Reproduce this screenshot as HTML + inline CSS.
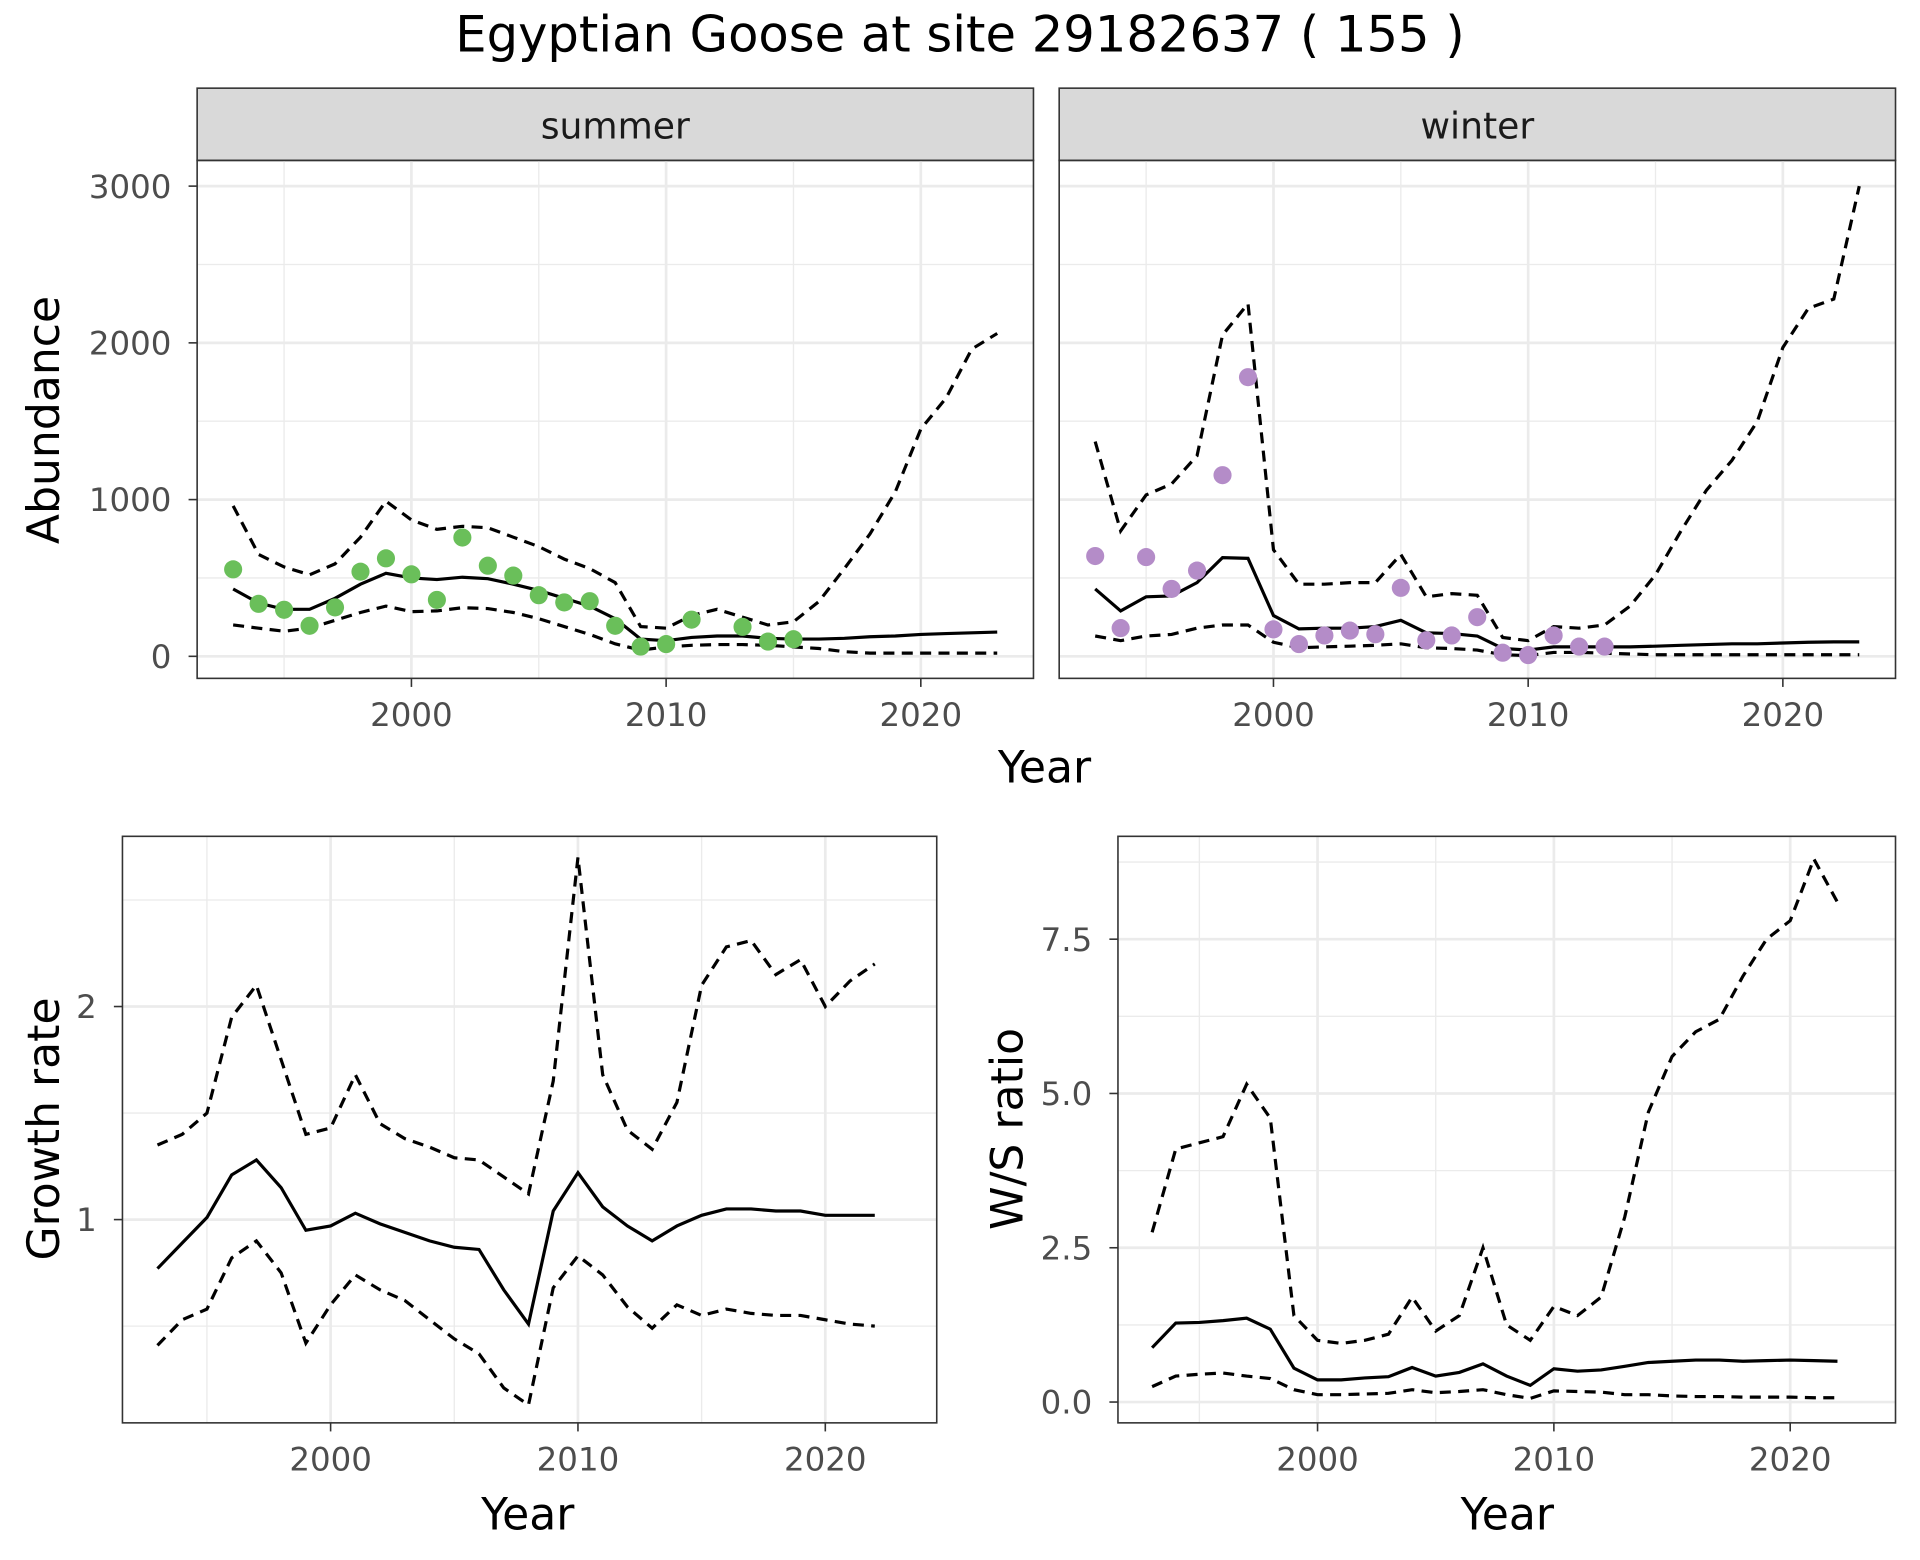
<!DOCTYPE html>
<html><head><meta charset="utf-8"><style>
html,body{margin:0;padding:0;background:#fff}
svg{display:block;font-family:"DejaVu Sans","Liberation Sans",sans-serif}
</style></head><body>
<svg id="chart" width="1920" height="1560" viewBox="0 0 1568 1274" xmlns="http://www.w3.org/2000/svg">
<rect width="1568" height="1274" fill="#fff"/>
<text x="784" y="42" font-size="40.5" text-anchor="middle" fill="#000">Egyptian Goose at site 29182637 ( 155 )</text>
<text transform="translate(48,343) rotate(-90)" font-size="36" text-anchor="middle" fill="#000">Abundance</text>
<text x="853" y="639" font-size="36" text-anchor="middle" fill="#000">Year</text>
<text transform="translate(48,922) rotate(-90)" font-size="36" text-anchor="middle" fill="#000">Growth rate</text>
<text x="431" y="1249" font-size="36" text-anchor="middle" fill="#000">Year</text>
<text transform="translate(835,922) rotate(-90)" font-size="36" text-anchor="middle" fill="#000">W/S ratio</text>
<text x="1231" y="1249" font-size="36" text-anchor="middle" fill="#000">Year</text>
<g id="g"></g>
</svg>
<script>
const years = [];for(let y=1993;y<=2023;y++)years.push(y);
const sumMean=[430,340,300,300,370,460,530,500,490,505,495,460,420,370,320,240,110,100,120,130,130,115,110,110,115,125,130,140,145,150,155];
const sumUpper=[960,650,570,520,590,760,990,870,810,830,820,760,700,620,560,470,190,180,260,300,250,200,220,350,560,780,1050,1450,1650,1960,2060];
const sumLower=[200,180,160,180,230,280,320,285,290,310,305,280,240,190,140,80,40,60,70,75,75,70,60,50,30,20,20,20,20,20,20];
const sumPtYears=[1993,1994,1995,1996,1997,1998,1999,2000,2001,2002,2003,2004,2005,2006,2007,2008,2009,2010,2011,2013,2014,2015];
const sumPts=[555,335,297,195,312,540,625,523,360,758,578,515,390,344,352,195,62,78,234,188,94,109];
const winMean=[430,290,380,385,470,630,625,260,175,180,180,190,230,150,145,130,50,40,60,60,60,60,65,70,75,80,80,85,90,92,92];
const winUpper=[1370,800,1030,1100,1280,2050,2250,680,460,460,470,470,650,380,400,390,120,100,190,180,200,320,520,800,1060,1250,1500,1970,2220,2280,3000];
const winLower=[130,100,130,140,180,200,200,90,55,60,65,70,80,55,50,40,10,5,25,25,20,15,10,10,10,10,10,10,10,10,10];
const winPtYears=[1993,1994,1995,1996,1997,1998,1999,2000,2001,2002,2003,2004,2005,2006,2007,2008,2009,2010,2011,2012,2013];
const winPts=[640,180,633,430,547,1156,1781,172,78,133,164,141,437,102,133,250,23,8,133,62,62];
const gYears=[];for(let y=1993;y<=2022;y++)gYears.push(y);
const grMean=[0.77,0.89,1.01,1.21,1.28,1.15,0.95,0.97,1.03,0.98,0.94,0.90,0.87,0.86,0.67,0.51,1.04,1.22,1.06,0.97,0.90,0.97,1.02,1.05,1.05,1.04,1.04,1.02,1.02,1.02];
const grUpper=[1.35,1.40,1.50,1.95,2.10,1.75,1.40,1.43,1.68,1.45,1.38,1.34,1.29,1.28,1.20,1.12,1.65,2.70,1.68,1.42,1.33,1.55,2.10,2.28,2.31,2.15,2.22,2.00,2.12,2.20];
const grLower=[0.41,0.53,0.58,0.82,0.90,0.75,0.42,0.60,0.74,0.67,0.62,0.53,0.44,0.37,0.21,0.13,0.68,0.83,0.74,0.59,0.49,0.60,0.55,0.58,0.56,0.55,0.55,0.53,0.51,0.50];
const wsMean=[0.88,1.28,1.29,1.32,1.36,1.18,0.55,0.36,0.36,0.39,0.41,0.56,0.42,0.48,0.62,0.42,0.27,0.54,0.50,0.52,0.58,0.64,0.66,0.68,0.68,0.66,0.67,0.68,0.67,0.66];
const wsUpper=[2.75,4.10,4.20,4.30,5.15,4.60,1.40,1.00,0.95,1.00,1.10,1.70,1.15,1.40,2.50,1.25,1.00,1.55,1.40,1.70,3.00,4.70,5.60,6.00,6.20,6.90,7.50,7.80,8.80,8.10];
const wsLower=[0.25,0.42,0.45,0.47,0.42,0.38,0.20,0.12,0.12,0.13,0.14,0.20,0.15,0.17,0.20,0.12,0.06,0.18,0.17,0.16,0.12,0.12,0.10,0.09,0.09,0.08,0.08,0.08,0.07,0.07];
const abTicks=[0,1000,2000,3000];
const abLabels=["0","1000","2000","3000"];
const yearTicks=[2000,2010,2020];
const grTicks=[1,2];
const grLabels=["1","2"];
const wsTicks=[0,2.5,5,7.5];
const wsLabels=["0.0","2.5","5.0","7.5"];

const NS="http://www.w3.org/2000/svg";
const G=document.getElementById('g');
function el(tag,attrs,parent,txt){const e=document.createElementNS(NS,tag);for(const k in attrs)e.setAttribute(k,attrs[k]);if(txt!==undefined)e.textContent=txt;(parent||G).appendChild(e);return e;}

function panel(o){
  const g=el('g',{});
  
  
  const X=v=>o.x0+(v-2000)*o.xsc, Y=v=>o.y0-(v-o.yr0)*o.ysc;
  o.yMinor.forEach(v=>{const y=Y(v);if(y>o.top&&y<o.bot){const l=el('line',{x1:o.left,x2:o.right,y1:y,y2:y,stroke:'#ebebeb','stroke-width':1.1},g);}});
  [1995,2005,2015].forEach(v=>{const l=el('line',{x1:X(v),x2:X(v),y1:o.top,y2:o.bot,stroke:'#ebebeb','stroke-width':1.1},g);});
  o.yTicks.forEach(v=>{const l=el('line',{x1:o.left,x2:o.right,y1:Y(v),y2:Y(v),stroke:'#ebebeb','stroke-width':2.2},g);});
  yearTicks.forEach(v=>{const l=el('line',{x1:X(v),x2:X(v),y1:o.top,y2:o.bot,stroke:'#ebebeb','stroke-width':2.2},g);});
  const path=(ys,dash,name)=>{const d=o.xv.map((x,i)=>(i?'L':'M')+X(x).toFixed(1)+','+Y(ys[i]).toFixed(1)).join('');const p=el('path',{d:d,fill:'none',stroke:'#000','stroke-width':2.6,'stroke-dasharray':dash?'9,6':'none'},g);};
  path(o.upper,true,'upper-bound-line');
  path(o.lower,true,'lower-bound-line');
  path(o.mean,false,'mean-line');
  if(o.pts){o.ptx.forEach((x,i)=>{const c=el('circle',{cx:X(x),cy:Y(o.pts[i]),r:7.4,fill:o.col},g);});}
  const b=el('rect',{x:o.left,y:o.top,width:o.right-o.left,height:o.bot-o.top,fill:'none',stroke:'#333','stroke-width':1.3},g);
  if(o.showY){o.yTicks.forEach((v,i)=>{el('line',{x1:o.left-7,x2:o.left,y1:Y(v),y2:Y(v),stroke:'#333','stroke-width':1.3},g);const t=el('text',{x:o.left-21,y:Y(v)+9.5,'font-size':26.5,'text-anchor':'end',fill:'#4d4d4d'},g,o.yLab[i]);});}
  yearTicks.forEach(v=>{el('line',{x1:X(v),x2:X(v),y1:o.bot,y2:o.bot+7,stroke:'#333','stroke-width':1.3},g);const t=el('text',{x:X(v),y:o.bot+39,'font-size':26.5,'text-anchor':'middle',fill:'#4d4d4d'},g,String(v));});
}
[['summer',161,844],['winter',865,1548]].forEach(s=>{const r=el('rect',{x:s[1],y:72,width:s[2]-s[1],height:59,fill:'#d9d9d9',stroke:'#333','stroke-width':1.3});const t=el('text',{x:(s[1]+s[2])/2,y:113,'font-size':29.5,'text-anchor':'middle',fill:'#1a1a1a'},G,s[0]);});
const abMinor=[500,1500,2500];
panel({name:'summer-panel',left:161,right:844,top:131,bot:554,x0:336,xsc:20.8,y0:536,yr0:0,ysc:0.128,yTicks:abTicks,yLab:abLabels,yMinor:abMinor,xv:years,mean:sumMean,upper:sumUpper,lower:sumLower,pts:sumPts,ptx:sumPtYears,col:'#6abf5a',showY:true});
panel({name:'winter-panel',left:865,right:1548,top:131,bot:554,x0:1040,xsc:20.8,y0:536,yr0:0,ysc:0.128,yTicks:abTicks,yLab:abLabels,yMinor:abMinor,xv:years,mean:winMean,upper:winUpper,lower:winLower,pts:winPts,ptx:winPtYears,col:'#b48cc8',showY:false});
panel({name:'growth-rate-panel',left:100,right:765,top:683,bot:1162,x0:270,xsc:20.2,y0:996,yr0:1,ysc:174,yTicks:grTicks,yLab:grLabels,yMinor:[0.5,1.5,2.5],xv:gYears,mean:grMean,upper:grUpper,lower:grLower,showY:true});
panel({name:'ws-ratio-panel',left:913,right:1548,top:683,bot:1162,x0:1076,xsc:19.3,y0:1145,yr0:0,ysc:50.4,yTicks:wsTicks,yLab:wsLabels,yMinor:[1.25,3.75,6.25,8.75],xv:gYears,mean:wsMean,upper:wsUpper,lower:wsLower,showY:true});
</script>
</body></html>
